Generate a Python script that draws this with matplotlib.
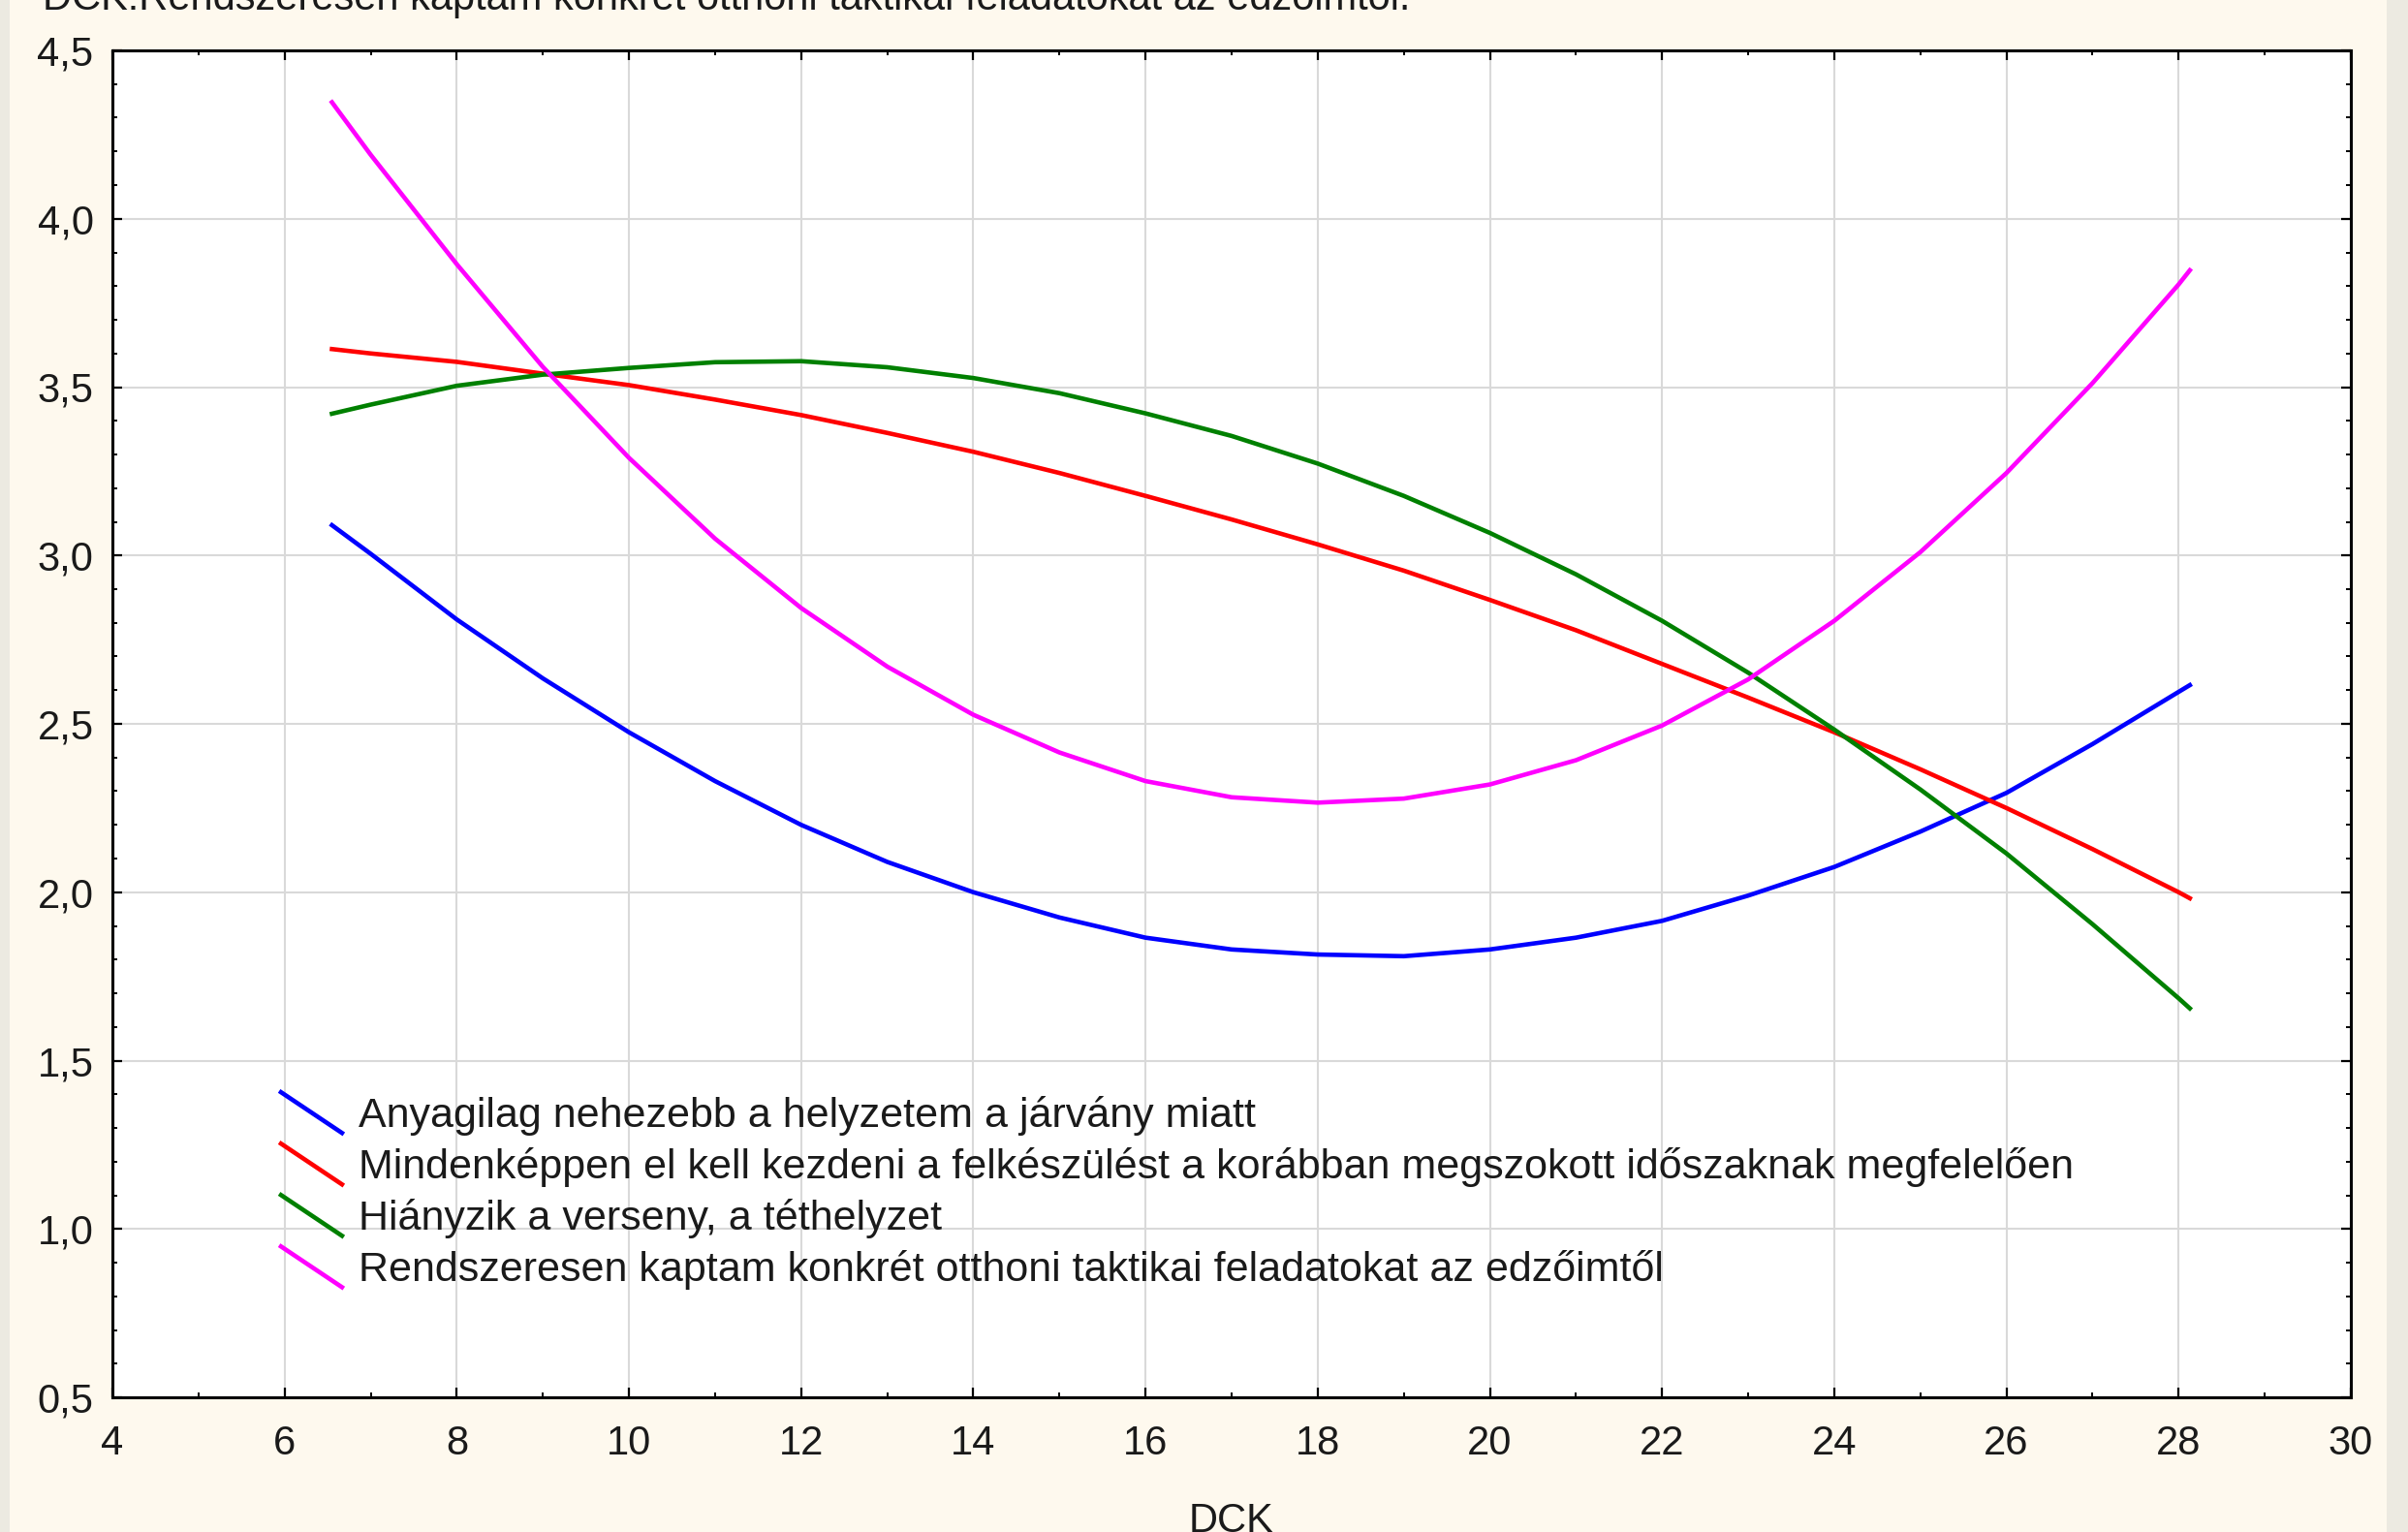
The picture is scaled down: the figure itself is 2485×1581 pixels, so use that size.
import matplotlib
matplotlib.use("Agg")
import matplotlib.pyplot as plt
from matplotlib.lines import Line2D
from matplotlib.legend_handler import HandlerLine2D
from matplotlib.patches import Rectangle
from matplotlib.ticker import MultipleLocator, FuncFormatter

plt.rcParams['font.family'] = ['Liberation Sans', 'DejaVu Sans']

# ---- data ----
dck = [6.55, 7, 8, 9, 10, 11, 12, 13, 14, 15, 16, 17, 18, 19, 20, 21, 22, 23, 24, 25, 26, 27, 28, 28.13]

anyagilag = [3.09, 3.005, 2.81, 2.635, 2.475, 2.33, 2.20, 2.09, 2.00, 1.925, 1.865, 1.83, 1.815, 1.81,
             1.83, 1.865, 1.915, 1.99, 2.075, 2.18, 2.295, 2.44, 2.595, 2.615]
mindenkeppen = [3.613, 3.60, 3.575, 3.54, 3.506, 3.463, 3.417, 3.364, 3.308, 3.245, 3.177, 3.107,
                3.033, 2.955, 2.868, 2.778, 2.678, 2.578, 2.475, 2.365, 2.25, 2.128, 2.0, 1.982]
hianyzik = [3.421, 3.448, 3.504, 3.537, 3.557, 3.574, 3.577, 3.559, 3.527, 3.482, 3.422, 3.355,
            3.273, 3.177, 3.067, 2.944, 2.806, 2.652, 2.483, 2.305, 2.115, 1.905, 1.685, 1.655]
rendszeresen = [4.346, 4.19, 3.865, 3.56, 3.29, 3.05, 2.844, 2.67, 2.527, 2.415, 2.33, 2.282,
                2.266, 2.278, 2.32, 2.392, 2.495, 2.632, 2.806, 3.01, 3.245, 3.512, 3.805, 3.847]

series_labels = [
    "Anyagilag nehezebb a helyzetem a járvány miatt",
    "Mindenképpen el kell kezdeni a felkészülést a korábban megszokott időszaknak megfelelően",
    "Hiányzik a verseny, a téthelyzet",
    "Rendszeresen kaptam konkrét otthoni taktikai feladatokat az edzőimtől",
]
series_colors = ["#0000FF", "#FF0000", "#008000", "#FF00FF"]
title_text = "DCK:Rendszeresen kaptam konkrét otthoni taktikai feladatokat az edzőimtől."
x_label = "DCK"

# ---- figure ----
W, H = 2485, 1581
fig = plt.figure(figsize=(W / 100, H / 100), dpi=100)
fig.patch.set_facecolor("#FEF9EE")
fig.patches.append(Rectangle((0, 0), 10 / W, 1, transform=fig.transFigure,
                             facecolor="#ECEAE1", edgecolor="none", zorder=0))
fig.patches.append(Rectangle((2463 / W, 0), 22 / W, 1, transform=fig.transFigure,
                             facecolor="#ECEAE1", edgecolor="none", zorder=0))

ax = fig.add_axes([116 / W, 1 - 1442 / H, (2426 - 116) / W, (1442 - 52) / H])
ax.set_facecolor("white")

all_series = [anyagilag, mindenkeppen, hianyzik, rendszeresen]
handles = []
for vals, lab, col in zip(all_series, series_labels, series_colors):
    ln, = ax.plot(dck, vals, color=col, lw=3.3, label=lab, solid_joinstyle='round', zorder=3)
    handles.append(ln)

ax.set_xlim(4, 30)
ax.set_ylim(0.5, 4.5)
ax.xaxis.set_major_locator(MultipleLocator(2))
ax.xaxis.set_minor_locator(MultipleLocator(1))
ax.yaxis.set_major_locator(MultipleLocator(0.5))
ax.yaxis.set_minor_locator(MultipleLocator(0.1))
ax.yaxis.set_major_formatter(FuncFormatter(lambda v, p: f"{v:.1f}".replace(".", ",")))
ax.xaxis.set_major_formatter(FuncFormatter(lambda v, p: f"{v:.0f}"))

ax.tick_params(which='both', direction='in', top=True, right=True, colors='black',
               labelcolor='#1a1a1a', labelsize=30)
ax.tick_params(which='major', length=7, width=1.6)
ax.tick_params(which='minor', length=3.5, width=1.4)
ax.tick_params(axis='x', which='major', pad=20)
ax.tick_params(axis='y', which='major', pad=14)

ax.grid(True, which='major', color='#D9D9D9', lw=1.5, zorder=0)
for s in ax.spines.values():
    s.set_linewidth(2.2)
    s.set_color('black')
    s.set_zorder(4)

ax.set_xlabel(x_label, fontsize=30, color='#1a1a1a')
ax.xaxis.set_label_coords(0.5, -0.078)
ax.xaxis.label.set_va('top')


class DiagHandler(HandlerLine2D):
    def create_artists(self, legend, orig_handle, xdescent, ydescent, width, height,
                       fontsize, trans):
        x0, x1 = -xdescent, -xdescent + width
        y0 = -ydescent + height * 1.22
        y1 = -ydescent - height * 0.26
        line = Line2D([x0, x1], [y0, y1], color=orig_handle.get_color(),
                      lw=orig_handle.get_linewidth(), solid_capstyle='butt')
        line.set_transform(trans)
        return [line]


leg = ax.legend(handles=handles, loc='upper left', bbox_to_anchor=(0.0745, 0.224),
                frameon=False, borderpad=0, borderaxespad=0, fontsize=31,
                handlelength=1.55, handletextpad=0.36, labelspacing=0.28,
                handler_map={Line2D: DiagHandler()})
for t in leg.get_texts():
    t.set_color('#1a1a1a')

fig.text(44 / W, 1 - 10 / H, title_text, fontsize=30, color='#1a1a1a',
         ha='left', va='baseline')

fig.savefig("out.png", dpi=100, facecolor=fig.get_facecolor())
